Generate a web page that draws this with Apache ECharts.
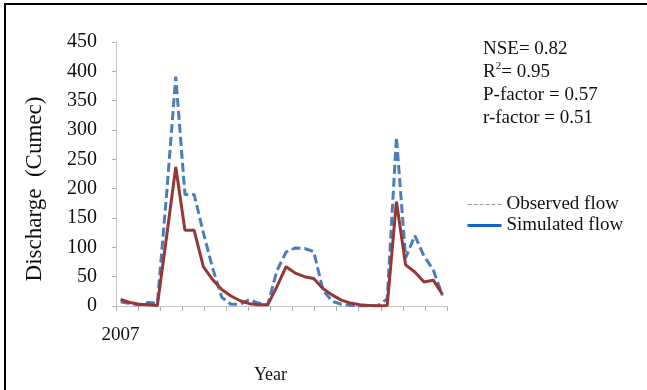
<!DOCTYPE html>
<html>
<head>
<meta charset="utf-8">
<script src="https://cdn.jsdelivr.net/npm/echarts@6/dist/echarts.min.js"></script>
<style>
  html, body { margin: 0; padding: 0; background: #fff; }
  #main { width: 647px; height: 390px; }
</style>
</head>
<body>
<div id="main"></div>
<script>
// monthly values, Jan 2007 .. Dec 2009
var months = [];
for (var y = 2007; y <= 2009; y++) {
    for (var m = 1; m <= 12; m++) {
        months.push(y + '-' + (m < 10 ? '0' + m : m));
    }
}
var observed = [7, 4, 2, 6, 5, 190, 391, 190, 190, 125, 65, 15,
                3, 3, 11, 5, 2, 60, 92, 99, 98, 93, 28, 8,
                3, 1, 0, 0, 1, 12, 288, 82, 120, 85, 62, 18];
var simulated = [11, 6, 3, 2, 1, 118, 237, 129, 129, 67, 45, 28,
                 17, 9, 4, 2, 2, 33, 67, 56, 50, 47, 30, 19,
                 10, 5, 2, 1, 0, 1, 178, 70, 58, 41, 44, 20];
var yTicks = { min: 0, max: 450, step: 50 };
// minor tick slots along the time axis (only drawn as ticks)
var tickSlots = [];
for (var k = 0; k < 45; k++) tickSlots.push('t' + k);

var serif = 'Liberation Serif';
var dom = document.getElementById('main');
var myChart = echarts.init(dom);

var option = {
    animation: false,
    grid: {
        left: 116,
        right: 200,
        top: 42,
        bottom: 84
    },
    legend: {
        orient: 'vertical',
        left: 461,
        top: 189,
        itemWidth: 34,
        itemHeight: 14,
        itemGap: 0,
        textStyle: { fontFamily: serif, fontSize: 19, lineHeight: 21, color: '#111' },
        data: [
            {
                name: 'Observed flow',
                lineStyle: { color: '#9a9a9a', type: [4, 2], width: 1.2 },
                itemStyle: { opacity: 0 }
            },
            {
                name: 'Simulated flow',
                lineStyle: { color: '#1565c8', type: 'solid', width: 3 },
                itemStyle: { opacity: 0 }
            }
        ]
    },
    xAxis: [
        {
            type: 'category',
            data: months,
            boundaryGap: true,
            name: 'Year',
            nameLocation: 'middle',
            nameGap: 60,
            nameTextStyle: { fontFamily: serif, fontSize: 18, color: '#111', padding: [0, 22, 0, 0] },
            axisLine: { lineStyle: { color: '#c4c4c4' } },
            axisTick: { show: false },
            axisLabel: {
                interval: function (index) { return index === 0; },
                formatter: function (v) { return v.slice(0, 4); },
                margin: 20,
                fontFamily: serif,
                fontSize: 19,
                color: '#111'
            }
        },
        {
            type: 'category',
            data: tickSlots,
            boundaryGap: true,
            position: 'bottom',
            axisLine: { show: false },
            axisTick: { show: true, length: 5, lineStyle: { color: '#b0b0b0' } },
            axisLabel: { show: false }
        }
    ],
    yAxis: {
        type: 'value',
        min: yTicks.min,
        max: yTicks.max,
        interval: yTicks.step,
        name: 'Discharge  (Cumec)',
        nameLocation: 'middle',
        nameGap: 70,
        nameTextStyle: { fontFamily: serif, fontSize: 23, color: '#111', padding: [0, 30, 0, 0] },
        axisLine: { show: true, lineStyle: { color: '#c4c4c4' } },
        axisTick: { show: true, length: 4, lineStyle: { color: '#b0b0b0' } },
        splitLine: { show: false },
        axisLabel: {
            margin: 19,
            fontFamily: serif,
            fontSize: 20,
            color: '#111'
        }
    },
    graphic: [
        {
            type: 'text',
            left: 483,
            top: 38,
            style: {
                text: 'NSE= 0.82\nR{sup|2}= 0.95\nP-factor = 0.57\nr-factor = 0.51',
                fontFamily: serif,
                fontSize: 19,
                lineHeight: 23,
                fill: '#111',
                rich: {
                    sup: { fontFamily: serif, fontSize: 11, verticalAlign: 'top', lineHeight: 23, fill: '#111' }
                }
            }
        },
        {
            type: 'polyline',
            shape: { points: [[5, 390], [5, 4], [647, 4]] },
            style: { stroke: '#000', lineWidth: 2, fill: null }
        }
    ],
    series: [
        {
            name: 'Observed flow',
            type: 'line',
            symbol: 'none',
            data: observed,
            lineStyle: { color: '#4a7ebb', width: 3, type: [9, 4] },
            itemStyle: { color: '#4a7ebb' }
        },
        {
            name: 'Simulated flow',
            type: 'line',
            symbol: 'none',
            data: simulated,
            lineStyle: { color: '#953735', width: 3 },
            itemStyle: { color: '#953735' }
        }
    ]
};

if (option && typeof option === "object") {
    myChart.setOption(option, true);
}
</script>
</body>
</html>
